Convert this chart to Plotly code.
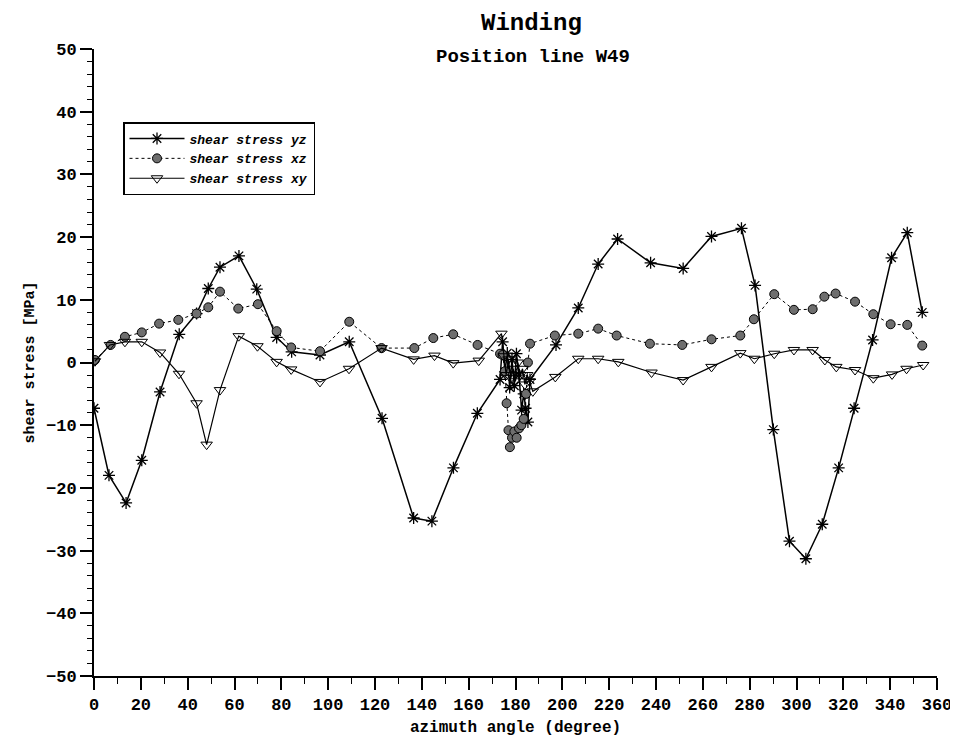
import plotly.graph_objects as go

# azimuth angles (degree) and shear stresses (MPa)
yz_x = [0, 6.4, 13.7, 20.4, 28.2, 36.4, 43.8, 48.8, 53.8, 61.9, 69.5, 78, 84.4, 96.5, 109, 123,
        136.5, 144.3, 153.5, 163.7, 173.4, 174.5, 175.5, 176.5, 177.5, 178.5, 179.5, 180.4,
        181.5, 182.6, 183.5, 184.3, 185.3, 186.2, 197.3, 206.8, 215.3, 223.6, 237.7, 251.6,
        263.7, 276.5, 282.3, 290.1, 297, 304, 311, 318, 324.6, 332.5, 340.6, 347.3, 353.7]
yz_y = [-7.3, -18, -22.4, -15.6, -4.7, 4.5, 7.8, 11.8, 15.2, 17, 11.7, 4, 1.7, 1.2, 3.3, -8.9,
        -24.8, -25.3, -16.8, -8.1, -2.7, 3.3, -1.5, 1.5, -4, 0.5, -3.7, 1.4,
        -2, -7.6, -5, -7.3, -9.5, -2.7, 2.8, 8.7, 15.7, 19.7, 15.9, 15,
        20.1, 21.4, 12.3, -10.7, -28.5, -31.3, -25.8, -16.8, -7.3, 3.6, 16.7, 20.7, 8.0]

xz_x = [0.4, 7.1, 13.2, 20.4, 27.8, 36, 43.8, 48.8, 53.8, 61.6, 70, 78, 84.2, 96.5, 109, 122.8,
        136.8, 144.9, 153.4, 163.8, 173.4, 174.5, 175.5, 176.2, 177, 177.6, 178.5, 179.5,
        180.5, 181.5, 182.5, 183.5, 184.5, 185.3, 186.2, 196.8, 206.8, 215.3, 223.2, 237.4,
        251.2, 263.7, 276, 281.8, 290.5, 298.9, 306.9, 311.9, 316.7, 325, 332.8, 340.2, 347.3, 353.7]
xz_y = [0.4, 2.8, 4.1, 4.8, 6.2, 6.8, 7.8, 8.8, 11.3, 8.6, 9.3, 5, 2.4, 1.8, 6.5, 2.3,
        2.3, 3.9, 4.5, 2.8, 1.4, 1.2, -1.4, -6.5, -10.8, -13.5, -12, -11,
        -12, -10.5, -10, -9, -5, 0, 3, 4.3, 4.6, 5.4, 4.3, 3,
        2.8, 3.7, 4.3, 6.9, 10.9, 8.4, 8.5, 10.5, 11, 9.7, 7.7, 6.1, 6, 2.7]

xy_x = [0.4, 6.8, 13.2, 20.4, 28.2, 36.3, 43.8, 48.1, 53.8, 61.8, 69.8, 78, 84.2, 96.5, 108.9,
        122.8, 136.5, 145.4, 153.4, 164.3, 174, 175, 176, 177, 178, 179, 180, 181, 182, 183,
        184, 185, 186, 187.4, 197, 206.8, 215.3, 223.9, 238.1, 251.6, 263.7, 276, 282, 290.5,
        298.9, 306.9, 312.1, 317, 325, 332.8, 340.8, 347, 354.1]
xy_y = [0.2, 2.8, 3.3, 3.3, 1.6, -1.8, -6.5, -13.1, -4.4, 4.2, 2.6, 0.1, -1.1, -3.1, -1,
        2.3, 0.5, 1.1, -0.1, 0.3, 4.6, 1, -2, 0.5, -2.5, -1, -3, 0, -2, -1,
        -3.5, -2, -3, -4.6, -2.3, 0.6, 0.6, 0.1, -1.6, -2.8, -0.7, 1.5, 0.6, 1.4,
        2, 2, 0.4, -0.7, -1.2, -2.5, -1.9, -1, -0.4]

FONT = "Liberation Mono"
OFF = 8  # page body margin in the browser
W, H = 958 - OFF, 742 - OFF
ML, MR, MT, MB = 94 - OFF, 21, 49 - OFF, 66
PH = H - MT - MB
PW = W - ML - MR

def py(pix):
    """screen pixel row -> paper y"""
    return (MT + OFF + PH - pix) / PH

def px(pix):
    """screen pixel column -> paper x"""
    return (pix - ML - OFF) / PW

fig = go.Figure()
fig.add_trace(go.Scatter(
    x=yz_x, y=yz_y, mode="lines+markers", name="shear stress yz",
    line=dict(color="black", width=1.5),
    marker=dict(symbol="asterisk-open", size=10, color="black", line=dict(color="black", width=1.3)),
))
fig.add_trace(go.Scatter(
    x=xz_x, y=xz_y, mode="lines+markers", name="shear stress xz",
    line=dict(color="black", width=1, dash="dot"),
    marker=dict(symbol="circle", size=9, color="#6e6e6e", line=dict(color="black", width=1)),
))
fig.add_trace(go.Scatter(
    x=xy_x, y=xy_y, mode="lines+markers", name="shear stress xy",
    line=dict(color="black", width=1.2),
    marker=dict(symbol="triangle-down-open", size=10, color="black", line=dict(color="black", width=1)),
))

fig.update_layout(
    width=W, height=H,
    margin=dict(l=ML, r=MR, t=MT, b=MB, autoexpand=False),
    paper_bgcolor="white", plot_bgcolor="white",
    font=dict(family=FONT, color="black", size=16),
    showlegend=True,
    legend=dict(
        x=px(123), y=py(122), xanchor="left", yanchor="top",
        bordercolor="black", borderwidth=1.5, bgcolor="white",
        font=dict(family=FONT, size=13, style="italic", weight="bold"),
        tracegroupgap=0, itemwidth=55,
    ),
    annotations=[
        dict(text="Winding", x=px(531), xref="paper", y=py(9), yref="paper", yanchor="top",
             showarrow=False, borderpad=0, font=dict(family=FONT, size=24, weight="bold")),
        dict(text="Position line W49", x=px(533), xref="paper", y=py(57), yref="paper", yanchor="middle",
             showarrow=False, font=dict(family=FONT, size=19, weight="bold")),
    ],
)

fig.update_xaxes(
    range=[0, 360], tickmode="linear", tick0=0, dtick=20, automargin=False,
    showline=True, linecolor="black", linewidth=2, mirror=False,
    ticks="outside", ticklen=12, tickwidth=1.5, tickcolor="black",
    minor=dict(dtick=10, ticks="outside", ticklen=6, tickwidth=1.2, tickcolor="black"),
    showgrid=False, zeroline=False,
    tickfont=dict(family=FONT, size=17, weight="bold"),
    title=dict(text="azimuth angle (degree)", standoff=6,
               font=dict(family=FONT, size=16, weight="bold")),
)
fig.update_yaxes(
    range=[-50, 50], tickmode="linear", tick0=-50, dtick=10, automargin=False,
    showline=True, linecolor="black", linewidth=2, mirror=False,
    ticks="outside", ticklen=12, tickwidth=1.5, tickcolor="black",
    minor=dict(dtick=2, ticks="outside", ticklen=5, tickwidth=1.2, tickcolor="black"),
    showgrid=False, zeroline=False,
    tickfont=dict(family=FONT, size=17, weight="bold"),
    title=dict(text="shear stress [MPa]", standoff=8,
               font=dict(family=FONT, size=15, weight="bold")),
)

fig.write_html("out.html")
